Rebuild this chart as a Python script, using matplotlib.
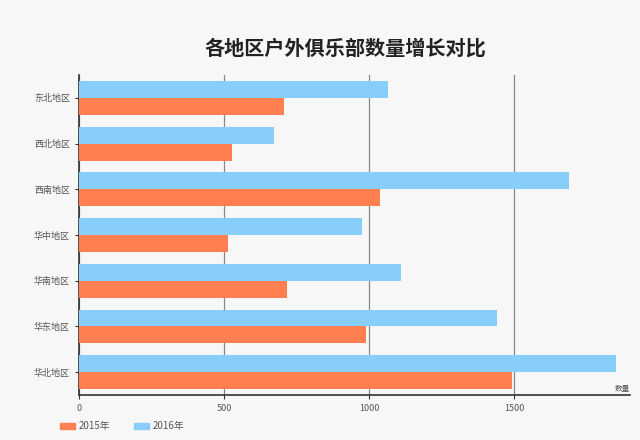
import numpy as np
import matplotlib.pyplot as plt
from matplotlib.patches import Patch

plt.rcParams['font.family'] = ['Noto Sans CJK SC', 'DejaVu Sans']

regions = ['华北地区', '华东地区', '华南地区', '华中地区', '西南地区', '西北地区', '东北地区']
y2015 = [1493, 990, 717, 514, 1038, 528, 707]
y2016 = [1852, 1441, 1110, 976, 1690, 672, 1066]

c2015 = '#ff7f50'
c2016 = '#87cefa'

fig = plt.figure(figsize=(6.4, 4.4), dpi=100, facecolor='#f7f7f7')
ax = fig.add_axes([0.1234, 0.1023, 0.861, 0.727])
ax.set_facecolor('#f7f7f7')

y = np.arange(len(regions))
h = 0.37
ax.barh(y + h / 2, y2016, height=h, color=c2016, zorder=3)
ax.barh(y - h / 2, y2015, height=h, color=c2015, zorder=3)

ax.set_xlim(0, 1900)
ax.set_ylim(-0.5, len(regions) - 0.5)
ax.set_xticks([0, 500, 1000, 1500])
ax.set_yticks(y)
ax.set_yticklabels(regions)
ax.tick_params(axis='both', labelsize=6.5, colors='#333333', labelcolor='#555555',
               length=3, width=0.8)
ax.grid(axis='x', color='#888888', linewidth=0.9, zorder=0)

for s in ['top', 'right']:
    ax.spines[s].set_visible(False)
for s in ['left', 'bottom']:
    ax.spines[s].set_color('#333333')
    ax.spines[s].set_linewidth(1.2)

ax.text(1.0, 0.005, '数量', transform=ax.transAxes, fontsize=5.5, color='#555555',
        ha='right', va='bottom')

fig.suptitle('各地区户外俱乐部数量增长对比', x=0.54, y=0.915, fontsize=14.5,
             fontweight='bold', color='#222222')

handles = [Patch(color=c2015, label='2015年'), Patch(color=c2016, label='2016年')]
fig.legend(handles=handles, loc='lower left', bbox_to_anchor=(0.08, 0.0), ncol=2,
           frameon=False, fontsize=7, handlelength=1.5, handleheight=0.5,
           columnspacing=2.5, labelcolor='#555555', handletextpad=0.4)

fig.savefig('out.png', dpi=100, facecolor=fig.get_facecolor())
